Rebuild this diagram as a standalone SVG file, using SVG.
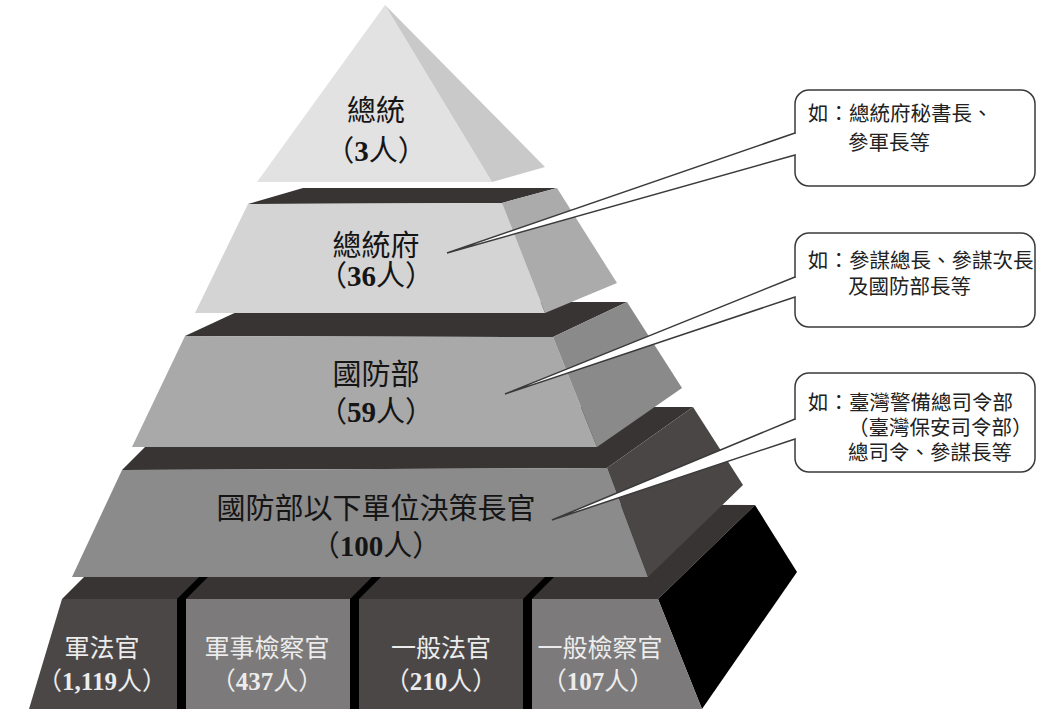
<svg xmlns="http://www.w3.org/2000/svg" width="1037" height="713" viewBox="0 0 1037 713">
<style>
.t{font-family:"Liberation Serif","Noto Sans CJK TC","Noto Sans CJK JP",serif}
.pt{font-size:29px;fill:#151515;text-anchor:middle}
.bt{font-size:25px;fill:#ececec;text-anchor:middle}
.ct{font-size:20.5px;fill:#222}
.num{font-weight:bold}
.strip{fill:#383434}
.black{fill:#000}
.bdark{fill:#4b4747}
.blight{fill:#7c7a7a}
.bubble{fill:#fff;stroke:#3a3a3a;stroke-width:1.5}
.wedge{fill:#fff;stroke:#3a3a3a;stroke-width:1.5;stroke-linejoin:miter}
.gapfix{fill:#fff}
</style>
<rect width="1037" height="713" fill="#fff"/>

<g id="base">
  <polygon class="strip" points="62,599 158,503 755,505 658,599"/>
  <polygon class="black" points="658,599 755,505 797,572 702,709"/>
  <polygon class="black" points="177,709 177,599 210,566 219,566 186,599 186,709"/>
  <polygon class="black" points="350,709 350,599 383,566 392,566 359,599 359,709"/>
  <polygon class="black" points="523,709 523,599 556,566 565,566 532,599 532,709"/>
</g>
<g id="block-jfg">
  <polygon class="bdark" points="62,599 177,599 177,709 29,709"/>
  <text class="t bt" x="102" y="657">軍法官</text>
  <text class="t bt" x="102" y="690">（<tspan class="num">1,119</tspan>人）</text>
</g>
<g id="block-jsjcg">
  <polygon class="blight" points="186,599 350,599 350,709 186,709"/>
  <text class="t bt" x="267" y="657">軍事檢察官</text>
  <text class="t bt" x="267" y="690">（<tspan class="num">437</tspan>人）</text>
</g>
<g id="block-ybfg">
  <polygon class="bdark" points="359,599 523,599 523,709 359,709"/>
  <text class="t bt" x="441" y="657">一般法官</text>
  <text class="t bt" x="441" y="690">（<tspan class="num">210</tspan>人）</text>
</g>
<g id="block-ybjcg">
  <polygon class="blight" points="532,599 658,599 702,709 532,709"/>
  <text class="t bt" x="600" y="657">一般檢察官</text>
  <text class="t bt" x="598" y="690">（<tspan class="num">107</tspan>人）</text>
</g>

<g id="tier4">
  <polygon class="strip" points="122,470 185,407 693,407 607,468"/>
  <polygon fill="#8b8b8b" points="122,470 607,468 648,577 72,577"/>
  <polygon fill="#4a4646" points="607,468 693,407 743,485 648,577"/>
  <text class="t pt" x="376" y="519">國防部以下單位決策長官</text>
  <text class="t pt" x="376" y="556">（<tspan class="num">100</tspan>人）</text>
</g>

<g id="tier3">
  <polygon class="strip" points="185,336 258,302 627,302 553,337"/>
  <polygon fill="#a9a9a9" points="185,336 553,337 597,447 132,447"/>
  <polygon fill="#8a8a8a" points="553,337 627,302 682,388 597,447"/>
  <text class="t pt" x="376" y="385">國防部</text>
  <text class="t pt" x="376" y="422">（<tspan class="num">59</tspan>人）</text>
</g>

<g id="tier2">
  <polygon class="strip" points="248,204 303,188 557,188 502,203"/>
  <polygon fill="#d4d4d4" points="248,204 502,203 545,313 195,313"/>
  <polygon fill="#ababab" points="502,203 557,188 617,283 545,313"/>
  <text class="t pt" x="376" y="256">總統府</text>
  <text class="t pt" x="376" y="286">（<tspan class="num">36</tspan>人）</text>
</g>

<g id="tier1">
  <polygon fill="#e2e2e2" points="385,5 492,182 257,182"/>
  <polygon fill="#c9c9c9" points="385,5 545,167 492,182"/>
  <text class="t pt" x="376" y="121">總統</text>
  <text class="t pt" x="376" y="161">（<tspan class="num">3</tspan>人）</text>
</g>

<g id="note1">
  <rect class="bubble" x="795" y="90" width="240" height="96" rx="14" ry="14"/>
  <text class="t ct" x="808" y="121">如：總統府秘書長、</text>
  <text class="t ct" x="848" y="150">參軍長等</text>
</g>
<g id="note2">
  <rect class="bubble" x="795" y="233" width="240" height="94" rx="14" ry="14"/>
  <text class="t ct" x="808" y="268">如：參謀總長、參謀次長</text>
  <text class="t ct" x="848" y="294">及國防部長等</text>
</g>
<g id="note3">
  <rect class="bubble" x="795" y="373" width="240" height="99" rx="14" ry="14"/>
  <text class="t ct" x="808" y="410">如：臺灣警備總司令部</text>
  <text class="t ct" x="848" y="435">（臺灣保安司令部）</text>
  <text class="t ct" x="848" y="460">總司令、參謀長等</text>
</g>

<g id="connectors">
  <rect class="gapfix" x="793.5" y="134" width="3.5" height="20"/>
  <path class="wedge" d="M795,133 L447,253 L795,155"/>
  <rect class="gapfix" x="793.5" y="278" width="3.5" height="18"/>
  <path class="wedge" d="M795,277 L505,394 L795,297"/>
  <rect class="gapfix" x="793.5" y="420" width="3.5" height="18"/>
  <path class="wedge" d="M795,419 L552,520 L795,439"/>
</g>
</svg>
